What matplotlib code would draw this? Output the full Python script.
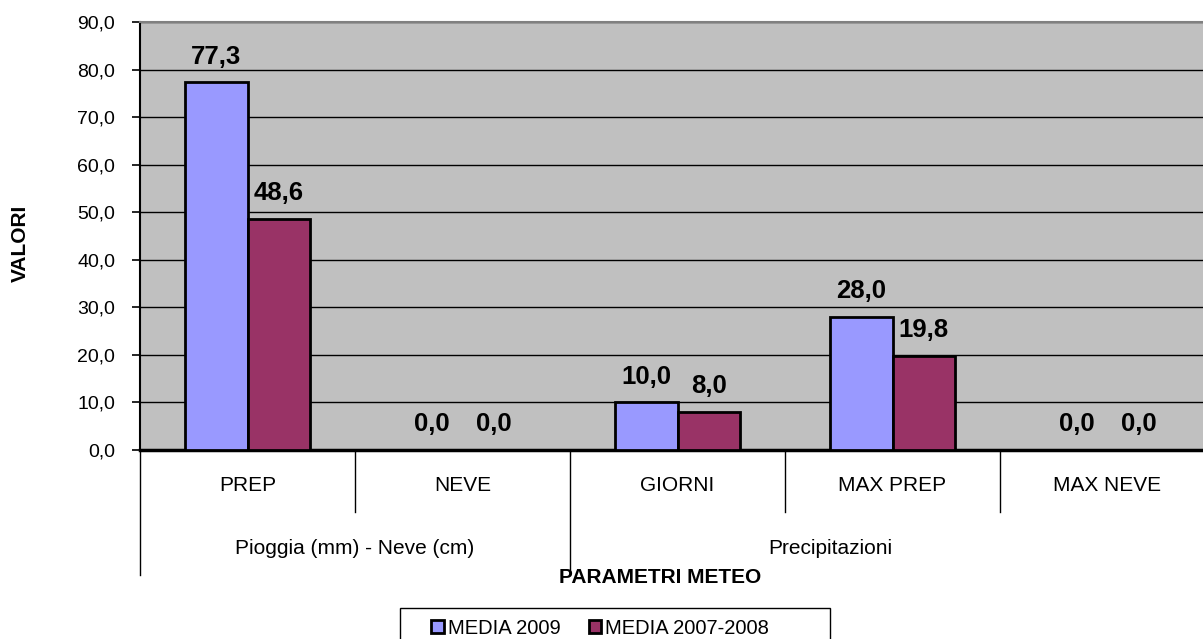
import numpy as np
import matplotlib
matplotlib.use('Agg')
import matplotlib.pyplot as plt
from matplotlib.patches import Patch, Rectangle
import matplotlib.transforms as mtransforms

plt.rcParams['font.family'] = ['Liberation Sans', 'DejaVu Sans']

categories = ['PREP', 'NEVE', 'GIORNI', 'MAX PREP', 'MAX NEVE']
groups = ['Pioggia (mm) - Neve (cm)', 'Precipitazioni']
media_2009 = [77.3, 0.0, 10.0, 28.0, 0.0]
media_2007_2008 = [48.6, 0.0, 8.0, 19.8, 0.0]
series_names = ['MEDIA 2009', 'MEDIA 2007-2008']
colors = ['#9999FF', '#993366']

fig = plt.figure(figsize=(12.03, 6.39), dpi=100)
# plot area runs a bit past the right edge of the picture (cropped chart)
ax = fig.add_axes([140/1203, 1 - 450/639, 1075/1203, 428/639])
ax.set_facecolor('#C0C0C0')

x = np.arange(len(categories))
w = 0.29
b1 = ax.bar(x - w/2, media_2009, w, color=colors[0], edgecolor='black', linewidth=2, zorder=3)
b2 = ax.bar(x + w/2, media_2007_2008, w, color=colors[1], edgecolor='black', linewidth=2, zorder=3)

# value labels like "77,3"
for bars, vals in [(b1, media_2009), (b2, media_2007_2008)]:
    for r, v in zip(bars, vals):
        ax.annotate(('%.1f' % v).replace('.', ','), (r.get_x() + r.get_width()/2, v),
                    xytext=(0, 10), textcoords='offset points', ha='center', va='bottom',
                    fontsize=18.5, fontweight='bold', zorder=4)

ax.set_xlim(-0.5, len(categories) - 0.5)
ax.set_ylim(0, 90)
ax.set_yticks(np.arange(0, 91, 10))
ax.set_yticklabels([('%.1f' % t).replace('.', ',') for t in np.arange(0, 91, 10)], fontsize=14)
ax.tick_params(axis='y', direction='out', length=6, width=1.2, pad=12)
ax.set_xticks([])
ax.yaxis.grid(True, color='black', linewidth=1, zorder=1)

ax.spines['right'].set_visible(False)
ax.spines['top'].set_color('#808080')
ax.spines['top'].set_linewidth(1.5)
ax.spines['left'].set_color('black')
ax.spines['left'].set_linewidth(1.5)
ax.spines['bottom'].set_linewidth(2.5)

# two-level category axis below
trans = mtransforms.blended_transform_factory(ax.transData, ax.transAxes)
for i, c in enumerate(categories):
    ax.text(i, -0.084, c, transform=trans, ha='center', va='center', fontsize=15)
for s in [0.5, 2.5, 3.5]:
    ax.plot([s, s], [0, -0.145], transform=trans, color='black', lw=1, clip_on=False)
for s in [-0.5, 1.5]:
    ax.plot([s, s], [0, -0.292], transform=trans, color='black', lw=1, clip_on=False)
ax.text(0.5, -0.229, groups[0], transform=trans, ha='center', va='center', fontsize=15)
ax.text(2.71, -0.229, groups[1], transform=trans, ha='center', va='center', fontsize=15)

ax.text(0.484, -0.299, 'PARAMETRI METEO', transform=ax.transAxes, ha='center', va='center',
        fontsize=15, fontweight='bold')
fig.text(20/1203, 1 - 243/639, 'VALORI', rotation=90, ha='center', va='center',
         fontsize=15, fontweight='bold')

# legend box (bottom part runs off the picture)
fig.patches.append(Rectangle((400/1203, -0.05), 430/1203, 0.05 + 1 - 608/639,
                             transform=fig.transFigure, fill=False, edgecolor='black', lw=1))
handles = [Patch(facecolor=colors[0], edgecolor='black', lw=2),
           Patch(facecolor=colors[1], edgecolor='black', lw=2)]
fig.legend(handles, series_names, loc='center', bbox_to_anchor=(600/1203, 1 - 628/639),
           ncol=2, frameon=False, fontsize=14.5, handlelength=0.6, handleheight=0.6,
           handletextpad=0.2, columnspacing=1.4)

plt.savefig('out.png', dpi=100)
